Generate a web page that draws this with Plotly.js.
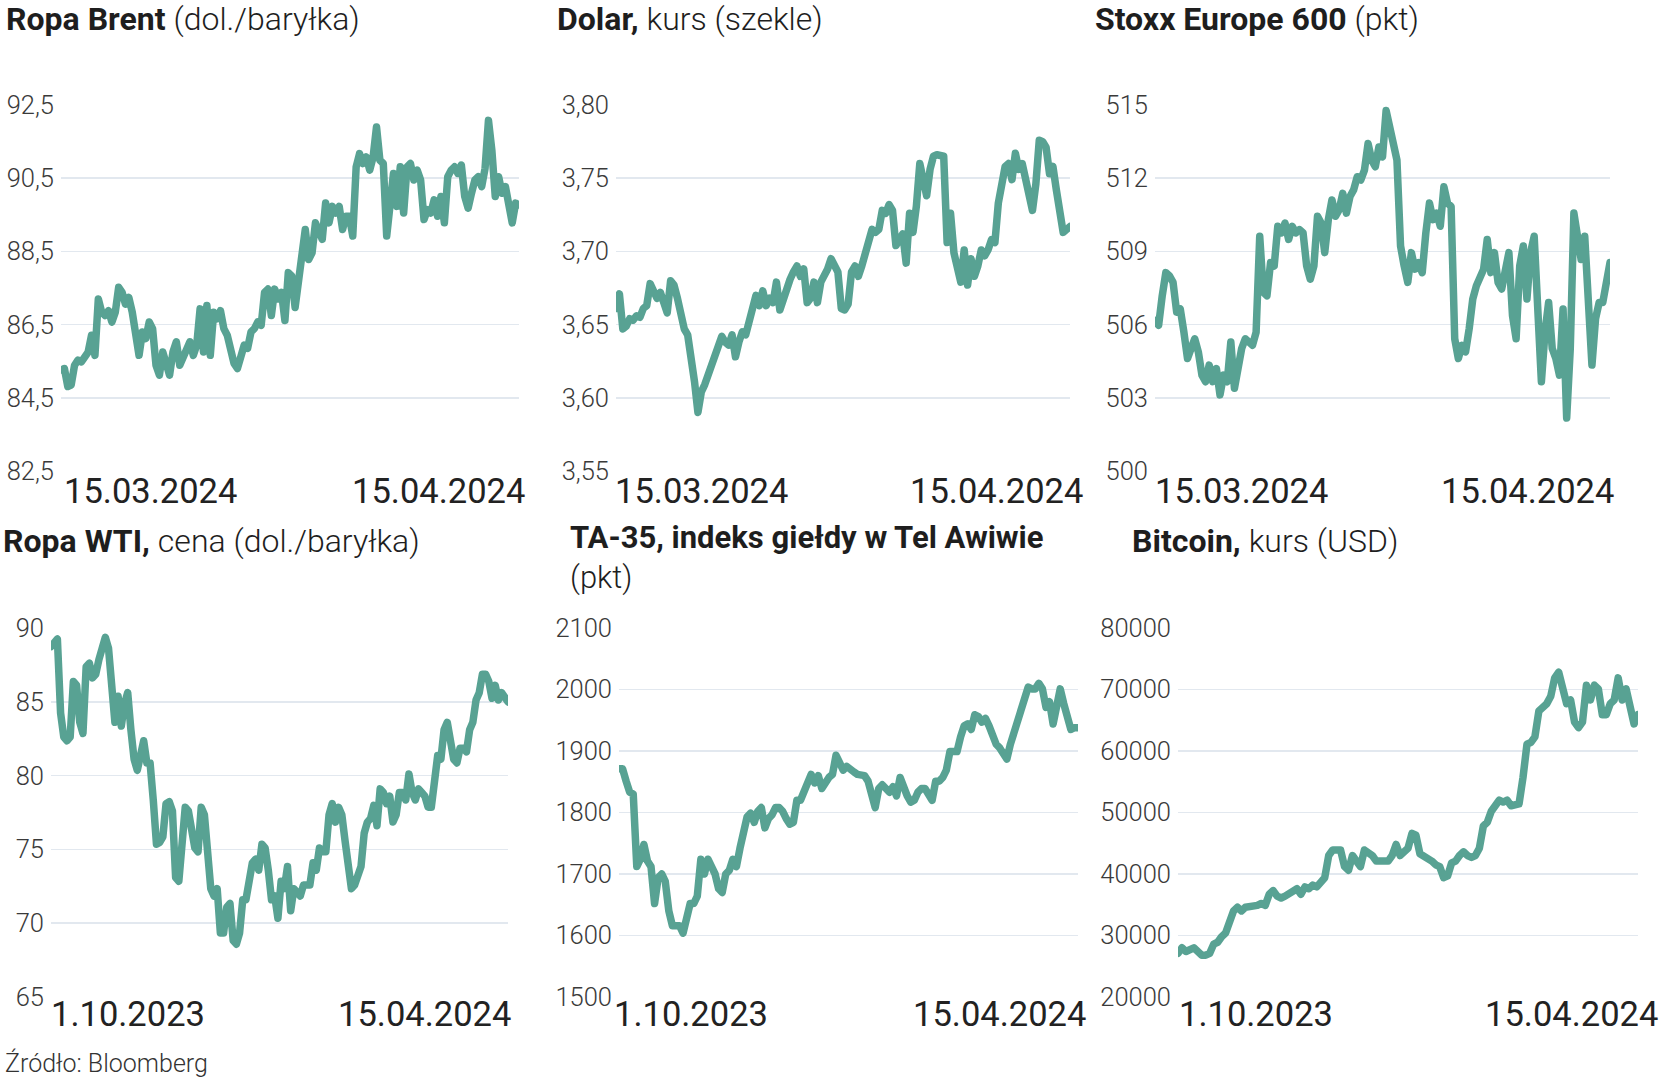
<!DOCTYPE html>
<html>
<head>
<meta charset="utf-8">
<script src="https://cdn.plot.ly/plotly-3.0.1.min.js"></script>
<style>
html,body{margin:0;padding:0;background:#fff;}
#chart{width:1661px;height:1080px;}
.scatterlayer .js-line{stroke-linejoin:round !important;stroke-linecap:round !important;}
</style>
</head>
<body>
<div id="chart"></div>
<script>
// ---------- DATA ----------
const topStart = '2024-03-15', topEnd = '2024-04-15';
const botStart = '2023-10-01', botEnd = '2024-04-15';
const topLabels = ['15.03.2024', '15.04.2024'];
const botLabels = ['1.10.2023', '15.04.2024'];

const brent = [85.26,85.30,84.81,84.85,85.39,85.53,85.48,85.62,85.75,86.21,85.66,87.20,86.84,86.75,86.88,86.57,86.84,87.52,87.38,87.06,87.24,86.84,86.30,85.66,86.30,86.12,86.57,86.39,85.39,85.12,85.75,85.39,85.12,85.75,86.03,85.39,85.57,85.75,86.03,85.66,85.94,86.93,85.75,87.02,85.66,86.84,86.66,86.88,86.39,86.21,85.75,85.44,85.30,85.57,85.94,85.85,86.30,86.39,86.57,86.48,87.38,87.47,86.75,87.47,87.20,87.38,86.61,87.92,87.83,86.97,87.65,88.10,89.10,88.28,88.46,89.28,89.01,88.83,89.82,89.28,89.73,89.55,89.73,89.10,89.46,89.46,88.92,90.81,91.17,90.90,91.08,90.72,91.08,91.90,90.99,90.90,88.92,89.64,90.63,89.73,90.81,89.55,90.81,90.90,90.45,90.72,90.45,89.37,89.64,89.55,89.91,89.46,90.00,89.28,90.54,90.72,90.81,90.63,90.86,90.00,89.68,90.09,90.45,90.54,90.27,90.77,92.08,91.26,90.00,90.54,90.09,90.27,89.82,89.28,89.82,89.77];

const dolar = [3.661,3.671,3.647,3.649,3.654,3.653,3.656,3.655,3.661,3.663,3.678,3.674,3.668,3.672,3.663,3.658,3.680,3.677,3.668,3.656,3.647,3.643,3.629,3.611,3.590,3.604,3.609,3.616,3.625,3.629,3.638,3.642,3.638,3.636,3.643,3.628,3.638,3.645,3.643,3.651,3.661,3.670,3.663,3.673,3.663,3.668,3.665,3.679,3.660,3.668,3.677,3.681,3.686,3.690,3.683,3.688,3.665,3.668,3.679,3.665,3.679,3.683,3.688,3.695,3.690,3.686,3.661,3.660,3.664,3.686,3.690,3.683,3.690,3.699,3.708,3.715,3.713,3.715,3.728,3.726,3.732,3.728,3.704,3.708,3.712,3.692,3.726,3.713,3.731,3.760,3.749,3.738,3.756,3.765,3.766,3.765,3.765,3.706,3.726,3.699,3.686,3.679,3.701,3.677,3.695,3.683,3.690,3.701,3.697,3.701,3.708,3.706,3.733,3.749,3.758,3.760,3.749,3.767,3.756,3.760,3.749,3.733,3.728,3.746,3.776,3.775,3.771,3.753,3.758,3.742,3.728,3.713,3.715,3.717];

const stoxx = [506.17,505.97,507.18,508.13,508.00,507.73,506.51,506.64,505.69,504.61,505.02,505.42,504.88,503.93,503.66,504.34,503.66,504.20,503.12,503.93,503.66,505.29,503.39,504.34,505.02,505.42,505.29,505.15,505.69,509.62,507.32,507.18,508.54,508.40,510.03,509.76,510.16,509.49,510.03,509.76,509.89,509.76,508.40,507.86,508.40,510.44,510.16,508.95,510.30,511.11,510.44,510.71,511.38,510.57,511.25,511.52,512.06,511.93,512.33,513.42,512.74,512.47,513.28,512.87,514.77,514.23,513.42,512.74,509.22,508.40,507.73,508.95,508.27,508.54,508.13,509.76,510.98,510.30,510.57,510.03,511.65,510.98,510.84,505.42,504.61,505.15,504.88,505.83,507.05,507.59,507.86,508.27,509.49,508.13,508.95,507.73,507.46,508.40,508.95,506.37,505.42,508.40,509.22,507.05,508.95,509.62,507.05,503.66,505.69,506.91,505.02,504.61,503.93,506.64,502.17,505.02,510.57,509.76,508.67,509.62,506.37,504.34,506.24,506.91,506.91,508.00,508.54];

const wti = [88.75,89.00,89.25,84.24,82.61,82.36,82.61,86.37,86.12,83.61,82.86,87.37,87.62,86.62,86.87,87.87,88.62,89.37,88.62,86.37,83.61,85.37,83.36,84.86,85.62,83.11,81.11,80.36,81.36,82.36,80.86,80.86,78.35,75.35,75.47,75.85,78.10,78.23,77.60,73.09,72.84,76.35,77.85,77.60,76.60,75.10,74.84,77.85,77.35,74.34,72.34,71.84,72.34,69.33,69.33,71.09,71.34,68.83,68.58,69.33,71.59,71.59,72.84,74.09,74.34,73.59,75.35,75.10,73.59,71.59,71.84,70.34,72.84,72.34,73.84,70.84,72.34,72.09,71.84,72.59,72.59,72.59,74.09,73.59,75.10,74.84,74.84,77.35,78.10,76.85,77.85,77.35,75.60,73.59,72.34,72.59,73.34,73.84,76.10,76.85,77.10,77.98,76.60,79.10,78.85,78.10,78.60,76.85,77.35,78.85,78.85,78.35,80.11,78.85,78.35,79.10,78.85,78.60,77.85,77.85,79.60,81.36,81.11,83.11,83.61,81.86,81.11,80.86,81.86,81.86,81.61,83.11,83.61,85.12,85.62,86.87,86.87,86.37,85.24,86.12,85.12,85.62,85.37,84.99];

const ta35 = [1871,1871,1851,1833,1830,1712,1724,1748,1721,1712,1652,1694,1700,1688,1640,1616,1616,1616,1604,1634,1652,1652,1664,1724,1700,1724,1712,1700,1676,1670,1700,1706,1724,1712,1742,1766,1793,1799,1784,1802,1808,1775,1790,1796,1808,1808,1802,1790,1781,1784,1820,1820,1833,1845,1862,1848,1860,1839,1851,1857,1862,1893,1881,1869,1875,1869,1866,1862,1860,1860,1851,1833,1808,1839,1845,1839,1833,1842,1827,1857,1839,1827,1817,1820,1833,1839,1839,1827,1820,1851,1851,1857,1869,1899,1899,1899,1923,1941,1944,1935,1959,1956,1947,1953,1941,1923,1911,1905,1893,1887,1911,1929,1947,1971,1989,2004,2001,2001,2010,2001,1971,1980,1944,1971,2001,1977,1959,1935,1938,1938];

const bitcoin = [27100,28000,27400,27700,28000,27400,26800,26800,27100,28600,28900,29800,30400,32200,34000,34600,34000,34600,34600,34600,34900,35200,34900,36700,37300,36400,36100,36400,36700,37000,37600,36700,37900,37600,38200,37900,38800,39400,43000,43900,43900,43900,41200,40600,43000,41800,41200,43900,43600,43000,42100,42100,41800,42100,43000,44800,43000,43600,44200,46600,46300,43300,43000,42700,42100,41500,41200,39400,39700,41800,42100,43000,43600,43000,42700,43000,44200,47800,48400,50200,51400,52000,51700,52000,51100,51100,51400,55700,61100,61400,62300,66500,67100,67700,68900,71900,72800,69500,67700,68300,64700,63800,64700,70700,68300,70700,70100,65900,65900,67700,68300,71900,68300,70100,67700,64400,65900];

const titlesBold = ['Ropa Brent', 'Dolar,', 'Stoxx Europe 600', 'Ropa WTI,', 'TA-35, indeks giełdy w Tel Awiwie', 'Bitcoin,'];
const titlesRest = ['(dol./baryłka)', 'kurs (szekle)', '(pkt)', 'cena (dol./baryłka)', '(pkt)', 'kurs (USD)'];
const yTicks = [
  [82.5,84.5,86.5,88.5,90.5,92.5],
  [3.55,3.60,3.65,3.70,3.75,3.80],
  [500,503,506,509,512,515],
  [65,70,75,80,85,90],
  [1500,1600,1700,1800,1900,2000,2100],
  [20000,30000,40000,50000,60000,70000,80000]
];
const yFormats = ['.1f', '.2f', 'd', 'd', 'd', 'd'];
const sourceText = 'Źródło: Bloomberg';

// ---------- LAYOUT ----------
const W = 1661, H = 1080;
const px = v => v / W, py = v => 1 - v / H;
const LINE = '#58a293';
const GRID = '#e2e8ef';
const FONT = 'Roboto, "Open Sans", sans-serif';

function timeGrid(start, end, n) {
  const a = new Date(start + 'T00:00:00Z').getTime();
  const b = new Date(end + 'T00:00:00Z').getTime();
  const out = [];
  for (let i = 0; i < n; i++) out.push(new Date(a + (b - a) * i / (n - 1)).toISOString());
  return out;
}

const series = [brent, dolar, stoxx, wti, ta35, bitcoin];
const panels = [
  {x:[61,519],   y:[105,471], s:topStart, e:topEnd, lab:topLabels, l:63,   r:526,  ly:491},
  {x:[616,1070], y:[105,471], s:topStart, e:topEnd, lab:topLabels, l:614,  r:1084, ly:491},
  {x:[1155,1610],y:[105,471], s:topStart, e:topEnd, lab:topLabels, l:1154, r:1615, ly:491},
  {x:[51,508],   y:[628,997], s:botStart, e:botEnd, lab:botLabels, l:50,   r:512,  ly:1014},
  {x:[619,1078], y:[628,997], s:botStart, e:botEnd, lab:botLabels, l:613,  r:1087, ly:1014},
  {x:[1178,1638],y:[628,997], s:botStart, e:botEnd, lab:botLabels, l:1178, r:1659, ly:1014}
];
const titlePos = [
  {x:5, y:19}, {x:556, y:19}, {x:1094, y:19},
  {x:2, y:541}, {x:569, y:557}, {x:1131, y:541}
];

const traces = [];
const layout = {
  width: W, height: H,
  margin: {l:0, r:0, t:0, b:0},
  paper_bgcolor: '#fff', plot_bgcolor: '#fff',
  showlegend: false,
  separators: ',.',
  font: {family: FONT, color: '#333'},
  annotations: []
};

panels.forEach((p, i) => {
  const k = i === 0 ? '' : String(i + 1);
  const ys = series[i];
  traces.push({
    type: 'scatter', mode: 'lines',
    x: timeGrid(p.s, p.e, ys.length), y: ys,
    xaxis: 'x' + k, yaxis: 'y' + k,
    line: {color: LINE, width: 7.5},
    hoverinfo: 'skip'
  });
  const t = yTicks[i];
  layout['xaxis' + k] = {
    domain: [px(p.x[0]), px(p.x[1])],
    anchor: 'y' + k, type: 'date',
    range: [p.s, p.e],
    showgrid: false, zeroline: false, showline: false,
    showticklabels: false, ticks: '', fixedrange: true
  };
  layout['yaxis' + k] = {
    domain: [py(p.y[1]), py(p.y[0])],
    anchor: 'x' + k,
    range: [t[0], t[t.length - 1]],
    tickvals: t, tickformat: yFormats[i],
    showgrid: true, gridcolor: GRID, gridwidth: 1.6,
    zeroline: false, showline: false, ticks: '',
    ticklabelstandoff: 6,
    tickfont: {family: FONT, size: 25.5, color: '#3a3a3a', weight: 300},
    fixedrange: true
  };
  // range end labels
  layout.annotations.push({
    xref: 'paper', yref: 'paper', x: px(p.l), y: py(p.ly),
    xanchor: 'left', yanchor: 'middle', showarrow: false,
    text: p.lab[0], font: {family: FONT, size: 34.5, color: '#222'}, borderpad: 0
  });
  layout.annotations.push({
    xref: 'paper', yref: 'paper', x: px(p.r), y: py(p.ly),
    xanchor: 'right', yanchor: 'middle', showarrow: false,
    text: p.lab[1], font: {family: FONT, size: 34.5, color: '#222'}, borderpad: 0
  });
  // titles
  const tp = titlePos[i];
  const sep = (i === 4) ? '<br>' : ' ';
  layout.annotations.push({
    xref: 'paper', yref: 'paper', x: px(tp.x), y: py(tp.y),
    xanchor: 'left', yanchor: 'middle', align: 'left', showarrow: false, borderpad: 0,
    text: '<b>' + titlesBold[i] + '</b>' + sep + '<span style="font-weight:300">' + titlesRest[i] + '</span>',
    font: {family: FONT, size: (i === 4 ? 31 : 32), color: '#1e1e1e'}
  });
});

layout.annotations.push({
  xref: 'paper', yref: 'paper', x: px(4), y: py(1063),
  xanchor: 'left', yanchor: 'middle', showarrow: false, borderpad: 0,
  text: sourceText, font: {family: FONT, size: 25, color: '#333', weight: 300}
});

Plotly.newPlot('chart', traces, layout, {staticPlot: true, displayModeBar: false});
</script>
</body>
</html>
